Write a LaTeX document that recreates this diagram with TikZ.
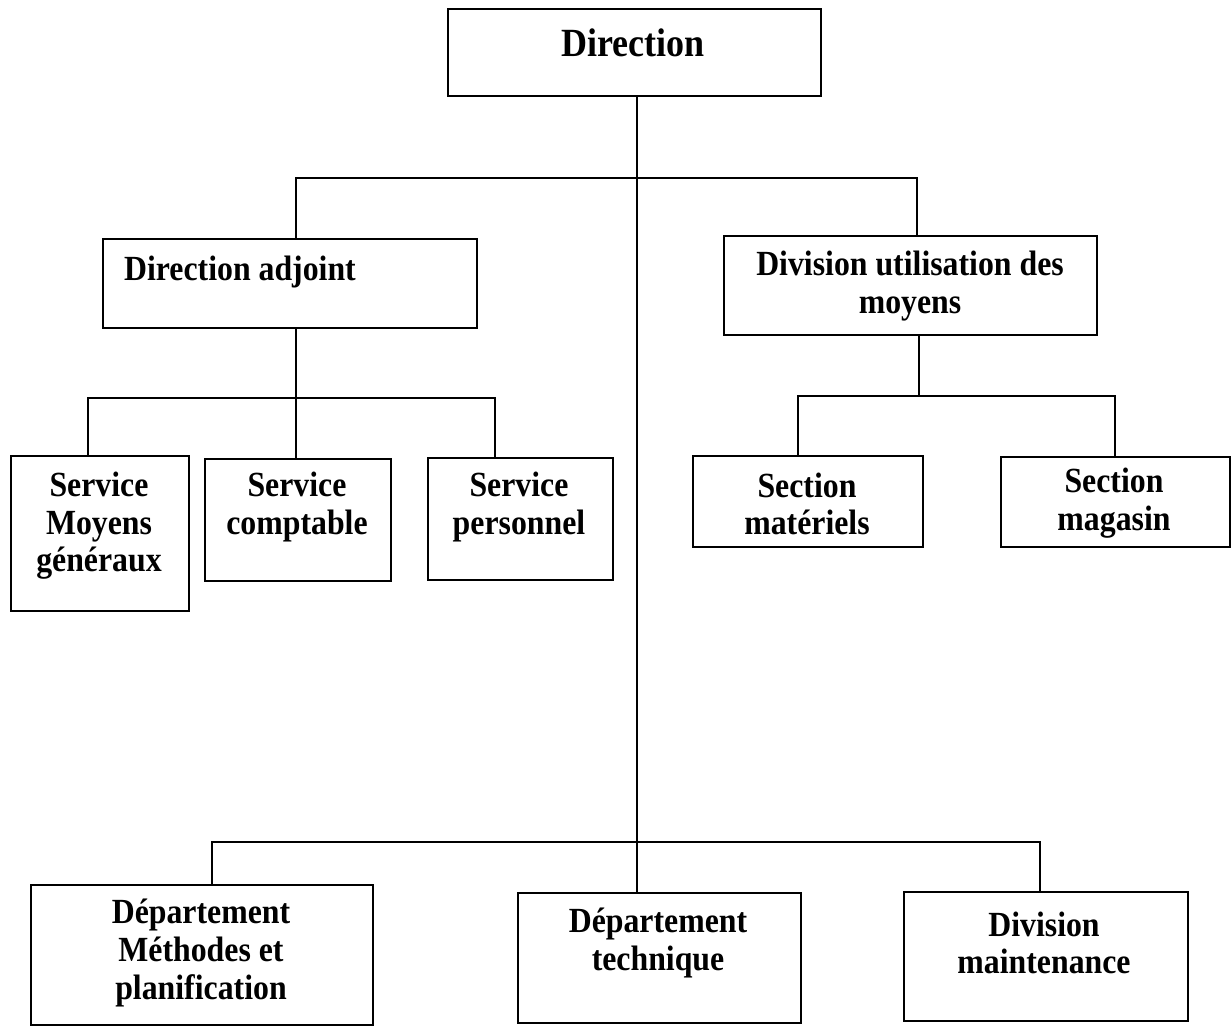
\documentclass[tikz,border=0pt]{standalone}
\usepackage{fontspec}
\setmainfont{Liberation Serif}
\newfontfamily\condserif[FakeStretch=0.9]{Liberation Serif}
\begin{document}
\begin{tikzpicture}[x=0.75pt,y=-0.75pt,
  box/.style 2 args={draw, line width=1.2pt, anchor=north west, inner sep=0pt,
    minimum width={#1*0.75pt}, minimum height={#2*0.75pt}},
  lbl/.style={font=\condserif\bfseries\fontsize{26.5}{28.2}\selectfont, align=center, inner sep=0pt},
  big/.style={font=\condserif\bfseries\fontsize{30}{32}\selectfont, align=center, inner sep=0pt},
  link/.style={line width=1.2pt}]
\useasboundingbox[fill=white] (0,0) rectangle (1232,1026);

% boxes (top-left corner, width, height in px)
\node[box={373}{87}]  (dir) at (447,8)   {};
\node[box={374}{89}]  (da)  at (102,238) {};
\node[box={373}{99}]  (du)  at (723,235) {};
\node[box={178}{155}] (s1)  at (10,455)  {};
\node[box={186}{122}] (s2)  at (204,458) {};
\node[box={185}{122}] (s3)  at (427,457) {};
\node[box={230}{91}]  (m1)  at (692,455) {};
\node[box={229}{90}]  (m2)  at (1000,456) {};
\node[box={342}{140}] (b1)  at (30,884)  {};
\node[box={283}{130}] (b2)  at (517,892) {};
\node[box={284}{129}] (b3)  at (903,891) {};

% texts
\node[big] (tdir) at (633,43)  {Direction};
\node[lbl] (tda)  at (240,272) {Direction adjoint};
\node[lbl] (tdu)  at (910,286) {Division utilisation des\\moyens};
\node[lbl] (ts1)  at (99,526)  {Service\\Moyens\\généraux};
\node[lbl] (ts2)  at (297,507) {Service\\comptable};
\node[lbl] (ts3)  at (519,507) {Service\\personnel};
\node[lbl] (tm1)  at (807,504) {Section\\matériels};
\node[lbl] (tm2)  at (1114,503) {Section\\magasin};
\node[lbl] (tb1)  at (201,953) {Département\\Méthodes et\\planification};
\node[lbl] (tb2)  at (658,943) {Département\\technique};
\node[lbl] (tb3)  at (1044,943) {Division\\maintenance};

% junction points of the connectors
\coordinate (jt)  at (637,178);
\coordinate (jl)  at (296,178);
\coordinate (jr)  at (917,178);
\coordinate (bl)  at (296,398);
\coordinate (bl1) at (88,398);
\coordinate (bl3) at (495,398);
\coordinate (br)  at (919,396);
\coordinate (br1) at (798,396);
\coordinate (br2) at (1115,396);
\coordinate (bb1) at (212,842);
\coordinate (bb3) at (1040,842);

% connectors
\draw[link] (dir.south -| jt) -- (b2.north -| jt);
\draw[link] (da.north -| jl) -- (jl) -- (jr) -- (du.north -| jr);
\draw[link] (da.south -| bl) -- (bl) -- (s2.north -| bl);
\draw[link] (s1.north -| bl1) -- (bl1) -- (bl3) -- (s3.north -| bl3);
\draw[link] (du.south -| br) -- (br);
\draw[link] (m1.north -| br1) -- (br1) -- (br2) -- (m2.north -| br2);
\draw[link] (b1.north -| bb1) -- (bb1) -- (bb3) -- (b3.north -| bb3);
\end{tikzpicture}
\end{document}
